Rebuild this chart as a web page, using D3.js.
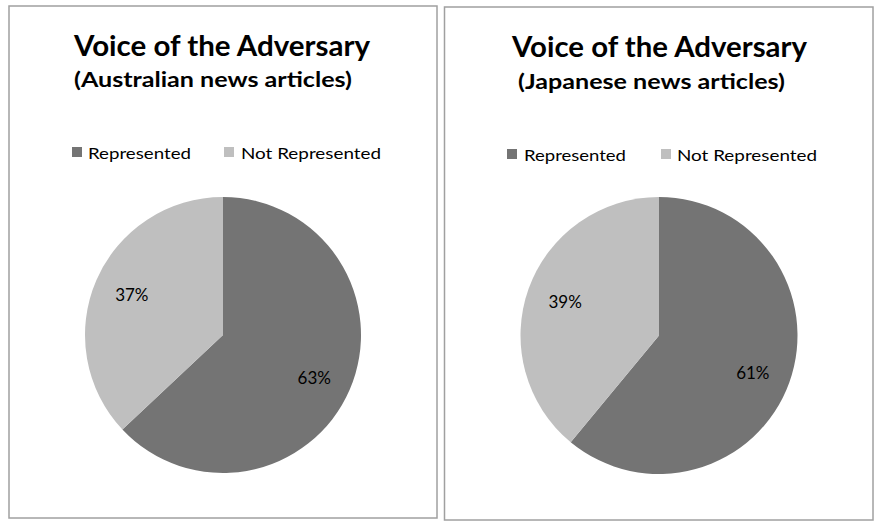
<!DOCTYPE html>
<html><head><meta charset="utf-8">
<script src="https://cdn.jsdelivr.net/npm/d3@7"></script>
<style>body{margin:0;background:#fff}svg{display:block}</style>
</head><body>
<script>
const categories = ["Represented", "Not Represented"];
const australianValues = [63, 37];
const japaneseValues = [61, 39];
const chartTitles = ["Voice of the Adversary", "Voice of the Adversary"];
const chartSubtitles = ["(Australian news articles)", "(Japanese news articles)"];
const colors = ["#747474", "#bfbfbf"];

const svg = d3.select("body").append("svg").attr("width", 881).attr("height", 531);
const font = "Lato, 'Open Sans', sans-serif";

const panels = [
  {x:9, y:6, w:428, h:512, values: australianValues, cx:223, cy:335, r:138,
   titleX:74, titleY:56, titleW:296, subX:74, subY:87, subW:278,
   legY:147, leg:[{sx:72, tx:88, tw:103},{sx:224, tx:241, tw:140}], title: chartTitles[0], sub: chartSubtitles[0]},
  {x:444.5, y:7, w:428.5, h:513, values: japaneseValues, cx:659, cy:335.5, r:138.5,
   titleX:512, titleY:57, titleW:295, subX:518, subY:89, subW:267,
   legY:149, leg:[{sx:507, tx:524, tw:102},{sx:661, tx:677, tw:140}], title: chartTitles[1], sub: chartSubtitles[1]}
];

const pie = d3.pie().sort(null).value(d => d);

panels.forEach(p => {
  const g = svg.append("g");
  g.append("rect").attr("x", p.x).attr("y", p.y).attr("width", p.w).attr("height", p.h)
    .attr("fill", "#fff").attr("stroke", "#a0a0a0").attr("stroke-width", 1.5);
  g.append("text").attr("x", p.titleX).attr("y", p.titleY).text(p.title)
    .attr("font-family", font).attr("font-weight", "bold").attr("font-size", 28)
    .attr("textLength", p.titleW).attr("lengthAdjust", "spacingAndGlyphs").attr("fill", "#000");
  g.append("text").attr("x", p.subX).attr("y", p.subY).text(p.sub)
    .attr("font-family", font).attr("font-weight", "bold").attr("font-size", 21)
    .attr("textLength", p.subW).attr("lengthAdjust", "spacingAndGlyphs").attr("fill", "#000");
  categories.forEach((c, i) => {
    const L = p.leg[i];
    g.append("rect").attr("x", L.sx).attr("y", p.legY).attr("width", 10).attr("height", 10).attr("fill", colors[i]);
    g.append("text").attr("x", L.tx).attr("y", p.legY + 12).text(c)
      .attr("font-family", font).attr("font-size", 16)
      .attr("textLength", L.tw).attr("lengthAdjust", "spacingAndGlyphs").attr("fill", "#000");
  });
  const arcs = pie(p.values);
  const arc = d3.arc().innerRadius(0).outerRadius(p.r);
  const pg = g.append("g").attr("transform", `translate(${p.cx},${p.cy})`);
  pg.selectAll("path").data(arcs).join("path").attr("d", arc).attr("fill", (d, i) => colors[i]);
  const labelArc = d3.arc().innerRadius(p.r * 0.72).outerRadius(p.r * 0.72);
  pg.selectAll("text.lbl").data(arcs).join("text").attr("class", "lbl")
    .attr("transform", d => { const c = labelArc.centroid(d); return `translate(${c[0]},${c[1] + (d.index === 0 ? 4 : 0)})`; })
    .attr("text-anchor", "middle").attr("dy", "0.35em")
    .attr("font-family", font).attr("font-size", 17).attr("fill", "#000")
    .text(d => d.data + "%");
});
</script>
</body></html>
